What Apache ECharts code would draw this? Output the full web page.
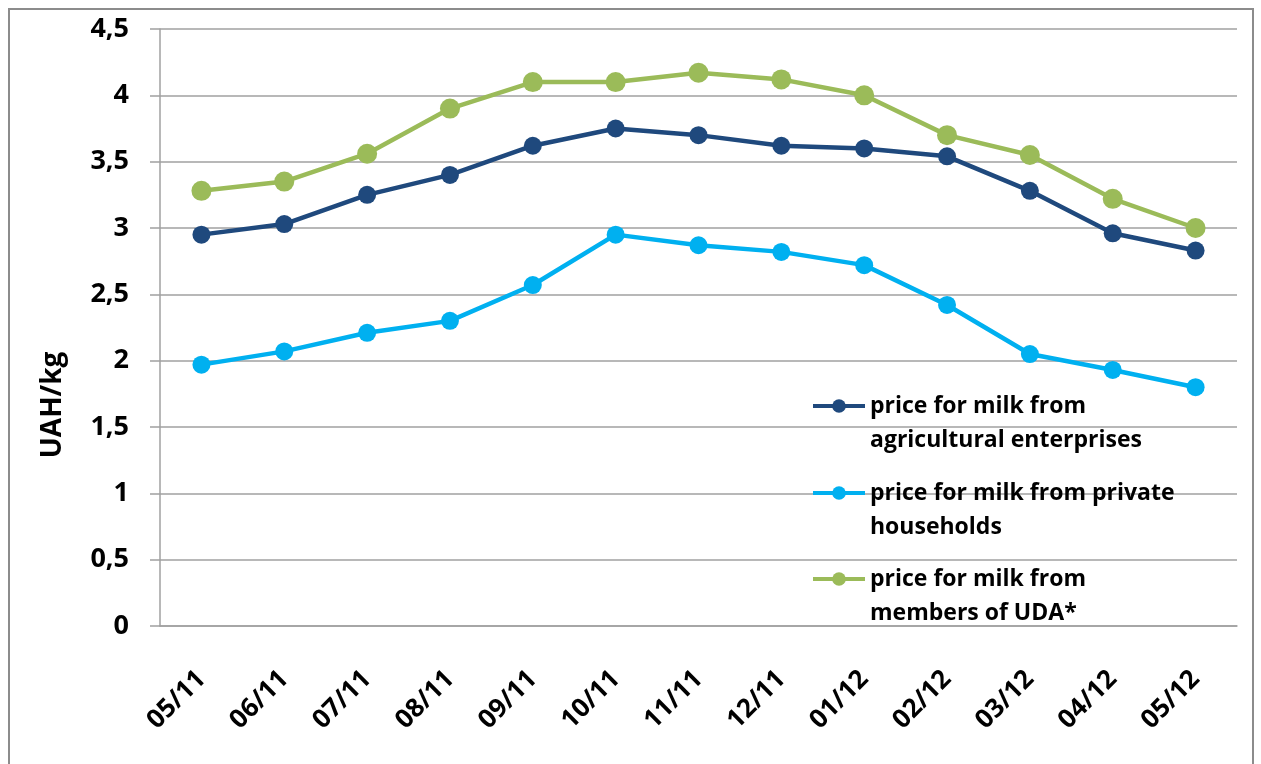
<!DOCTYPE html>
<html>
<head>
<meta charset="utf-8">
<script src="https://cdn.jsdelivr.net/npm/echarts@6/dist/echarts.min.js"></script>
<style>
html,body{margin:0;padding:0;background:#fff;overflow:hidden;}
#frame{position:absolute;left:8px;top:8px;width:1246px;height:800px;border:2px solid #8c8c8c;box-sizing:border-box;}
#chart{position:absolute;left:0;top:0;width:1261px;height:764px;}
</style>
</head>
<body>
<div id="frame"></div>
<div id="chart"></div>
<script>
const categories = ['05/11','06/11','07/11','08/11','09/11','10/11','11/11','12/11','01/12','02/12','03/12','04/12','05/12'];
const agricultural = [2.95,3.03,3.25,3.40,3.62,3.75,3.70,3.62,3.60,3.54,3.28,2.96,2.83];
const households = [1.97,2.07,2.21,2.30,2.57,2.95,2.87,2.82,2.72,2.42,2.05,1.93,1.80];
const udaMembers = [3.28,3.35,3.56,3.90,4.10,4.10,4.17,4.12,4.00,3.70,3.55,3.22,3.00];
const seriesNames = ['price for milk from agricultural enterprises','price for milk from private households','price for milk from members of UDA*'];
const legendLines = {
  'price for milk from agricultural enterprises':'price for milk from\nagricultural enterprises',
  'price for milk from private households':'price for milk from private\nhouseholds',
  'price for milk from members of UDA*':'price for milk from\nmembers of UDA*'
};
const colors = ['#1F497D','#00B0F0','#9BBB59'];
const markerSizes = [18,18,20];
const yTicks = {min:0,max:4.5,interval:0.5};

const FONT = '"Open Sans"';
const chart = echarts.init(document.getElementById('chart'));
const legendTops = [355,442,528];
const option = {
  animation:false,
  grid:{left:160,right:24,top:29,bottom:138,containLabel:false},
  xAxis:{
    type:'category',data:categories,boundaryGap:true,
    axisLine:{show:true,lineStyle:{color:'#a0a0a0',width:1.5}},
    axisTick:{show:false},
    axisLabel:{rotate:45,margin:49,color:'#000',fontFamily:FONT,fontWeight:'bold',fontSize:26,interval:0}
  },
  yAxis:{
    type:'value',min:yTicks.min,max:yTicks.max,interval:yTicks.interval,
    axisLine:{show:true,lineStyle:{color:'#a0a0a0',width:1.5}},
    axisTick:{show:true,length:10,inside:false,lineStyle:{color:'#a0a0a0',width:1.5}},
    splitLine:{show:true,lineStyle:{color:'#a0a0a0',width:1.5}},
    axisLabel:{margin:31,color:'#000',fontFamily:FONT,fontWeight:'bold',fontSize:27,
      formatter:v=>String(v).replace('.',',')}
  },
  legend: seriesNames.map((n,i)=>({
    data:[n],orient:'vertical',left:811,top:legendTops[i],padding:0,
    itemWidth:52,itemHeight:17,itemGap:0,
    lineStyle:{width:4},
    formatter:name=>'\n'+legendLines[name],
    textStyle:{color:'#000',fontFamily:FONT,fontWeight:'bold',fontSize:23,lineHeight:34}
  })),
  graphic:[{
    type:'text',x:53,y:405,rotation:Math.PI/2,
    style:{text:'UAH/kg',fill:'#000',font:'bold 28px '+FONT,align:'center',verticalAlign:'middle'}
  }],
  series:[agricultural,households,udaMembers].map((d,i)=>({
    name:seriesNames[i],type:'line',data:d,
    symbol:'circle',symbolSize:markerSizes[i],
    lineStyle:{color:colors[i],width:4.5},
    itemStyle:{color:colors[i]}
  }))
};
chart.setOption(option);
</script>
</body>
</html>
